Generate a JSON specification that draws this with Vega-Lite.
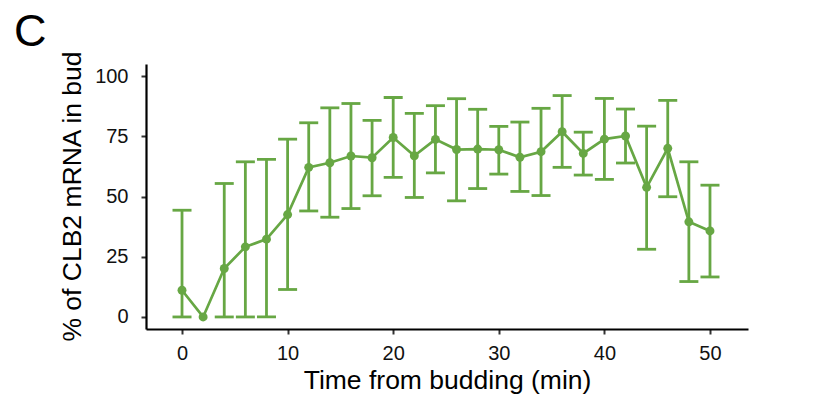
{
  "$schema": "https://vega.github.io/schema/vega-lite/v6.json",
  "autosize": {"type": "none"},
  "padding": {"left": 146, "top": 64, "right": 71, "bottom": 87},
  "width": 602,
  "height": 265,
  "background": "white",
  "title": {
    "text": "C",
    "anchor": "start",
    "frame": "group",
    "orient": "top",
    "baseline": "alphabetic",
    "offset": 0,
    "dx": -132,
    "dy": 41,
    "font": "Liberation Sans",
    "fontSize": 45,
    "fontWeight": "normal",
    "color": "black"
  },
  "config": {
    "view": {"stroke": null},
    "font": "Liberation Sans"
  },
  "data": {
    "values": [
      {"time": 0, "pct": 11.1, "lower": 0, "upper": 44.3},
      {"time": 2, "pct": 0, "lower": null, "upper": null},
      {"time": 4, "pct": 20.1, "lower": 0, "upper": 55.4},
      {"time": 6, "pct": 29.1, "lower": 0, "upper": 64.4},
      {"time": 8, "pct": 32.3, "lower": 0, "upper": 65.4},
      {"time": 10, "pct": 42.5, "lower": 11.4, "upper": 73.8},
      {"time": 12, "pct": 62.1, "lower": 44.0, "upper": 80.6},
      {"time": 14, "pct": 64.0, "lower": 41.4, "upper": 86.8},
      {"time": 16, "pct": 66.8, "lower": 45.0, "upper": 88.6},
      {"time": 18, "pct": 66.1, "lower": 50.3, "upper": 81.6},
      {"time": 20, "pct": 74.5, "lower": 57.9, "upper": 91.1},
      {"time": 22, "pct": 66.9, "lower": 49.6, "upper": 84.5},
      {"time": 24, "pct": 73.7, "lower": 59.8, "upper": 87.7},
      {"time": 26, "pct": 69.5, "lower": 48.2, "upper": 90.6},
      {"time": 28, "pct": 69.7, "lower": 53.3, "upper": 86.2},
      {"time": 30, "pct": 69.4, "lower": 59.3, "upper": 79.1},
      {"time": 32, "pct": 66.3, "lower": 52.1, "upper": 80.9},
      {"time": 34, "pct": 68.6, "lower": 50.4, "upper": 86.6},
      {"time": 36, "pct": 76.9, "lower": 62.1, "upper": 91.9},
      {"time": 38, "pct": 67.9, "lower": 58.9, "upper": 76.7},
      {"time": 40, "pct": 73.8, "lower": 57.1, "upper": 90.7},
      {"time": 42, "pct": 75.1, "lower": 63.9, "upper": 86.3},
      {"time": 44, "pct": 53.8, "lower": 28.1, "upper": 79.2},
      {"time": 46, "pct": 70.0, "lower": 49.9, "upper": 89.9},
      {"time": 48, "pct": 39.5, "lower": 14.7, "upper": 64.4},
      {"time": 50, "pct": 35.7, "lower": 16.6, "upper": 54.7}
    ]
  },
  "encoding": {
    "x": {
      "field": "time",
      "type": "quantitative",
      "scale": {"domain": [-3.41, 53.6], "nice": false, "zero": false},
      "axis": {
        "title": "Time from budding (min)",
        "values": [0, 10, 20, 30, 40, 50],
        "grid": false,
        "domainColor": "black",
        "domainWidth": 2.2,
        "tickColor": "#333333",
        "tickWidth": 2,
        "tickSize": 5,
        "labelPadding": 9,
        "labelFontSize": 20,
        "labelColor": "#111111",
        "labelFont": "Liberation Sans",
        "titleFont": "Liberation Sans",
        "titleFontSize": 26.5,
        "titleFontWeight": "normal",
        "titleColor": "black",
        "titleBaseline": "alphabetic",
        "titleAlign": "center",
        "titleX": 301,
        "titleY": 59
      }
    },
    "y": {
      "field": "pct",
      "type": "quantitative",
      "scale": {"domain": [-5, 105], "nice": false, "zero": false},
      "axis": {
        "title": "% of CLB2 mRNA in bud",
        "values": [0, 25, 50, 75, 100],
        "grid": false,
        "domainColor": "black",
        "domainWidth": 2.2,
        "tickColor": "#333333",
        "tickWidth": 2,
        "tickSize": 5,
        "labelPadding": 13,
        "labelFontSize": 20,
        "labelColor": "#111111",
        "labelFont": "Liberation Sans",
        "titleFont": "Liberation Sans",
        "titleFontSize": 26.5,
        "titleFontWeight": "normal",
        "titleColor": "black",
        "titleAngle": -90,
        "titleBaseline": "alphabetic",
        "titleAlign": "center",
        "titleX": -66,
        "titleY": 132
      }
    }
  },
  "layer": [
    {
      "transform": [{"filter": "datum.upper != null"}],
      "mark": {
        "type": "errorbar",
        "color": "#67a744",
        "thickness": 2.8,
        "ticks": {"size": 19, "thickness": 2.8, "color": "#67a744", "opacity": 1}
      },
      "encoding": {
        "y": {"field": "lower", "type": "quantitative"},
        "y2": {"field": "upper"}
      }
    },
    {
      "mark": {"type": "line", "color": "#67a744", "strokeWidth": 2.7},
      "encoding": {}
    },
    {
      "mark": {"type": "point", "filled": true, "opacity": 1, "color": "#67a744", "size": 80},
      "encoding": {}
    }
  ]
}
